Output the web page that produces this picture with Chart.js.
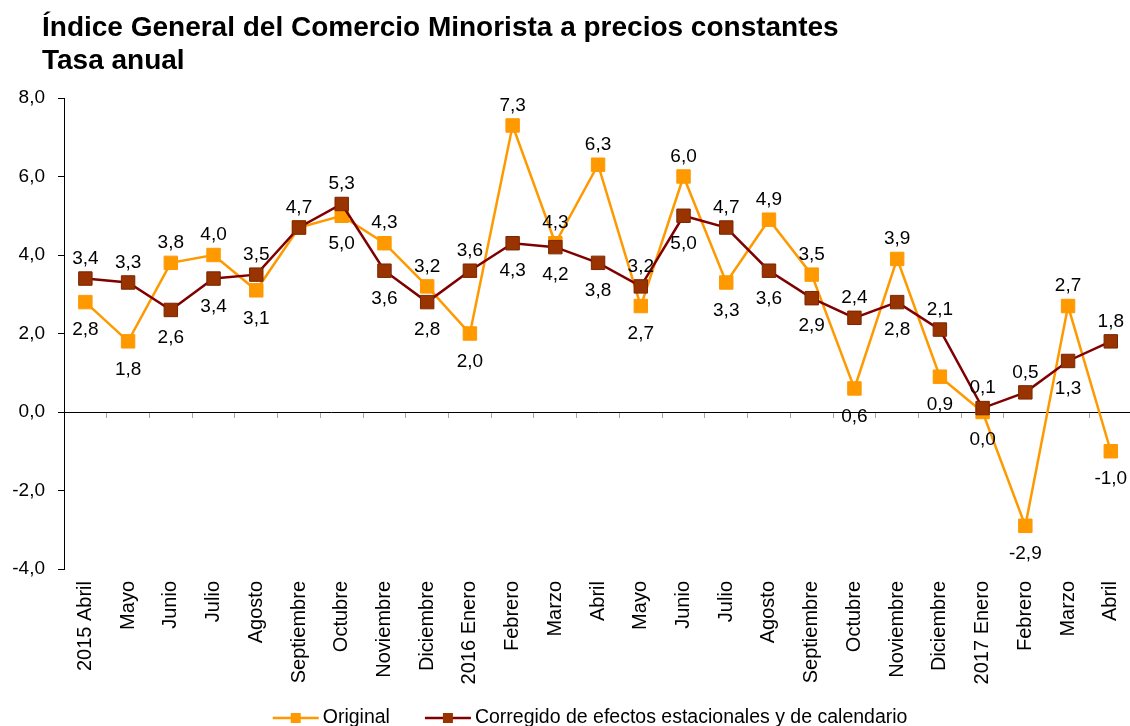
<!DOCTYPE html>
<html>
<head>
<meta charset="utf-8">
<script src="https://cdn.jsdelivr.net/npm/chart.js@4.4.0/dist/chart.umd.min.js"></script>
<style>
  body { margin: 0; overflow: hidden; background: #fff; }
  #wrap { position: relative; width: 1147px; height: 726px; }
  #title {
    position: absolute; left: 42px; top: 10px;
    font: bold 28px "Liberation Sans", Arial, sans-serif;
    line-height: 33px; color: #000;
  }
</style>
</head>
<body>
<div id="wrap">
  <canvas id="chart"></canvas>
  <div id="title">Índice General del Comercio Minorista a precios constantes<br>Tasa anual</div>
</div>
<script>
const categories = ['2015 Abril', 'Mayo', 'Junio', 'Julio', 'Agosto', 'Septiembre', 'Octubre',
    'Noviembre', 'Diciembre', '2016 Enero', 'Febrero', 'Marzo', 'Abril', 'Mayo', 'Junio', 'Julio',
    'Agosto', 'Septiembre', 'Octubre', 'Noviembre', 'Diciembre', '2017 Enero', 'Febrero', 'Marzo', 'Abril'];
const original = [2.8, 1.8, 3.8, 4.0, 3.1, 4.7, 5.0, 4.3, 3.2, 2.0, 7.3, 4.3, 6.3, 2.7, 6.0, 3.3,
    4.9, 3.5, 0.6, 3.9, 0.9, 0.0, -2.9, 2.7, -1.0];
const corregido = [3.4, 3.3, 2.6, 3.4, 3.5, 4.7, 5.3, 3.6, 2.8, 3.6, 4.3, 4.2, 3.8, 3.2, 5.0, 4.7,
    3.6, 2.9, 2.4, 2.8, 2.1, 0.1, 0.5, 1.3, 1.8];
const yTicks = [-4, -2, 0, 2, 4, 6, 8];

const FONT = '"Liberation Sans", Arial, sans-serif';
const fmt = v => v.toFixed(1).replace('.', ',');

// value labels: higher value above its point, lower one below
const valueLabels = {
    id: 'valueLabels',
    afterDatasetsDraw(chart) {
        const ctx = chart.ctx;
        const xs = chart.scales.x, ys = chart.scales.y;
        ctx.save();
        ctx.font = '19px ' + FONT;
        ctx.fillStyle = '#000';
        ctx.textAlign = 'center';
        ctx.textBaseline = 'middle';
        categories.forEach((c, i) => {
            const a = original[i], b = corregido[i];
            const px = xs.getPixelForValue(i);
            const hi = Math.max(a, b), lo = Math.min(a, b);
            ctx.fillText(fmt(hi), px, ys.getPixelForValue(hi) - 20);
            if (a !== b) ctx.fillText(fmt(lo), px, ys.getPixelForValue(lo) + 28);
        });
        ctx.restore();
    }
};

// legend with line + square marker, at the bottom
const lineLegend = {
    id: 'lineLegend',
    afterDraw(chart) {
        const ctx = chart.ctx;
        ctx.save();
        ctx.font = '19.5px ' + FONT;
        ctx.textBaseline = 'middle';
        const lineLen = 46, gap = 4, spacing = 35;
        const items = chart.data.datasets.map(d => ({
            label: d.label, line: d.borderColor, fill: d.pointBackgroundColor,
            w: ctx.measureText(d.label).width
        }));
        let total = 0;
        items.forEach((it, k) => { total += lineLen + gap + it.w + (k ? spacing : 0); });
        let x = (chart.chartArea.left + chart.chartArea.right) / 2 - total / 2 - 8;
        const y = chart.height - 8;
        items.forEach(it => {
            ctx.strokeStyle = it.line;
            ctx.lineWidth = 2.5;
            ctx.beginPath();
            ctx.moveTo(x, y);
            ctx.lineTo(x + lineLen, y);
            ctx.stroke();
            ctx.fillStyle = it.fill;
            ctx.fillRect(x + lineLen / 2 - 5, y - 5, 10, 10);
            ctx.fillStyle = '#000';
            ctx.fillText(it.label, x + lineLen + gap, y);
            x += lineLen + gap + it.w + spacing;
        });
        ctx.restore();
    }
};

new Chart(document.getElementById('chart'), {
    type: 'line',
    data: {
        labels: categories,
        datasets: [{
            label: 'Original',
            data: original,
            borderColor: '#FF9900',
            backgroundColor: '#FF9900',
            pointBackgroundColor: '#FF9900',
            pointBorderColor: '#FF9900',
            pointStyle: 'rect',
            pointRadius: 9.5,
            pointBorderWidth: 1,
            borderWidth: 2.5,
            tension: 0,
            order: 2
        }, {
            label: 'Corregido de efectos estacionales y de calendario',
            data: corregido,
            borderColor: '#800000',
            backgroundColor: '#993300',
            pointBackgroundColor: '#993300',
            pointBorderColor: '#7a2600',
            pointStyle: 'rect',
            pointRadius: 9.5,
            pointBorderWidth: 1,
            borderWidth: 2.5,
            tension: 0,
            order: 1
        }]
    },
    options: {
        responsive: true,
        maintainAspectRatio: false,
        animation: false,
        layout: { padding: { top: 98, right: 7, left: 0, bottom: 0 } },
        plugins: {
            legend: { display: false },
            tooltip: { enabled: false },
            title: { display: false }
        },
        scales: {
            x: {
                type: 'category',
                offset: true,
                grid: { display: false, drawTicks: false },
                border: { display: false },
                ticks: {
                    autoSkip: false,
                    minRotation: 90,
                    maxRotation: 90,
                    padding: 12,
                    color: '#000',
                    font: { family: FONT, size: 20 }
                },
                afterFit: s => { s.height = 157; }
            },
            x2: {
                type: 'category',
                position: { y: 0 },
                offset: true,
                grid: { offset: true, drawOnChartArea: false, drawTicks: true, tickLength: 5, color: '#a6a6a6' },
                border: { display: true, color: '#000', width: 1 },
                ticks: { display: false }
            },
            y: {
                min: yTicks[0],
                max: yTicks[yTicks.length - 1],
                grid: { drawOnChartArea: false, drawTicks: true, tickLength: 6, color: '#000' },
                border: { display: true, color: '#000', width: 1 },
                ticks: {
                    stepSize: 2,
                    padding: 13,
                    color: '#000',
                    font: { family: FONT, size: 19 },
                    callback: v => fmt(v)
                },
                afterFit: s => { s.width = 64; }
            }
        }
    },
    plugins: [valueLabels, lineLegend]
});
</script>
</body>
</html>
